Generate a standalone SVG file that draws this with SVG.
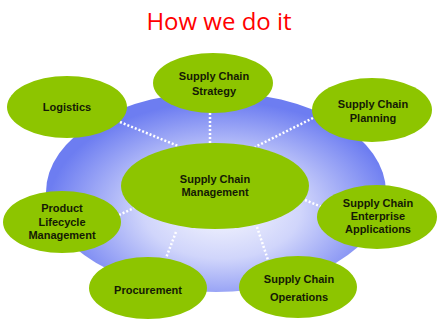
<svg xmlns="http://www.w3.org/2000/svg" width="440" height="332" viewBox="0 0 440 332">
<defs>
<radialGradient id="bg" cx="222" cy="210" r="175" gradientUnits="userSpaceOnUse" gradientTransform="translate(222 210) scale(1 0.62) translate(-222 -210)">
<stop offset="0" stop-color="#f6f7fe"/>
<stop offset="0.45" stop-color="#d0d5fb"/>
<stop offset="1" stop-color="#6d7df1"/>
</radialGradient>
<style>
.n{fill:#8dc500}
.t{font-family:"Liberation Sans",Arial,sans-serif;font-size:11px;font-weight:bold;fill:#141a05;text-anchor:middle}
.c{stroke:#ffffff;stroke-width:2.5;stroke-dasharray:2 2;fill:none}
</style>
</defs>
<rect width="440" height="332" fill="#ffffff"/>
<text x="219" y="30" font-family="'Open Sans','Liberation Sans',sans-serif" font-size="24" fill="#ff0000" text-anchor="middle">How we do it</text>
<ellipse cx="216" cy="192" rx="170" ry="100" fill="url(#bg)"/>
<g id="connectors">
<line class="c" x1="120" y1="122" x2="178" y2="146"/>
<line class="c" x1="210" y1="113" x2="210" y2="144"/>
<line class="c" x1="313" y1="118" x2="255" y2="147"/>
<line class="c" x1="305" y1="200" x2="322" y2="207"/>
<line class="c" x1="257" y1="227" x2="268" y2="260"/>
<line class="c" x1="176" y1="232" x2="166" y2="258"/>
<line class="c" x1="119" y1="215" x2="134" y2="208"/>
</g>
<g id="scm"><ellipse class="n" cx="215" cy="186" rx="94" ry="43"/><text class="t" x="215" y="183">Supply Chain</text><text class="t" x="215" y="196">Management</text></g>
<g id="strategy"><ellipse class="n" cx="213" cy="83" rx="60" ry="30"/><text class="t" x="214" y="80">Supply Chain</text><text class="t" x="214" y="95">Strategy</text></g>
<g id="logistics"><ellipse class="n" cx="67" cy="107" rx="60" ry="31"/><text class="t" x="67" y="111">Logistics</text></g>
<g id="planning"><ellipse class="n" cx="372" cy="110" rx="60" ry="32"/><text class="t" x="373" y="108">Supply Chain</text><text class="t" x="373" y="122">Planning</text></g>
<g id="enterprise"><ellipse class="n" cx="377" cy="217" rx="60" ry="32"/><text class="t" x="378" y="207">Supply Chain</text><text class="t" x="378" y="220">Enterprise</text><text class="t" x="378" y="233">Applications</text></g>
<g id="operations"><ellipse class="n" cx="298" cy="287" rx="59" ry="31"/><text class="t" x="299" y="283">Supply Chain</text><text class="t" x="299" y="301">Operations</text></g>
<g id="procurement"><ellipse class="n" cx="148" cy="288" rx="59" ry="31"/><text class="t" x="148" y="294">Procurement</text></g>
<g id="plm"><ellipse class="n" cx="62" cy="222" rx="59" ry="31"/><text class="t" x="62" y="212">Product</text><text class="t" x="62" y="226">Lifecycle</text><text class="t" x="62" y="239">Management</text></g>
</svg>
